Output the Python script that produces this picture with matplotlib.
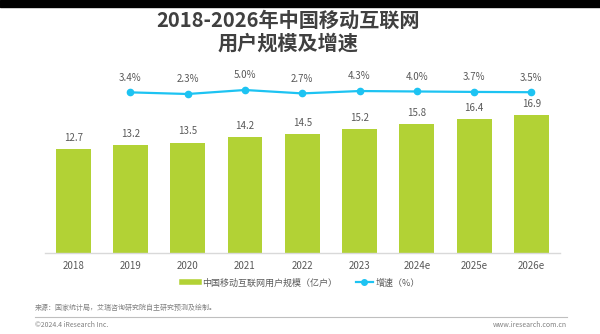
import matplotlib.pyplot as plt
from matplotlib.lines import Line2D

plt.rcParams['font.family'] = ['Noto Sans CJK SC', 'DejaVu Sans']

years = ["2018", "2019", "2020", "2021", "2022", "2023", "2024e", "2025e", "2026e"]
users = [12.7, 13.2, 13.5, 14.2, 14.5, 15.2, 15.8, 16.4, 16.9]
growth_years = years[1:]
growth = [3.4, 2.3, 5.0, 2.7, 4.3, 4.0, 3.7, 3.5]

green = "#B2D235"
cyan = "#1DC3F2"
gray = "#595959"

fig = plt.figure(figsize=(6, 3.34), dpi=100)

# black strip at the top
fig.patches.append(plt.Rectangle((0, 1 - 7 / 334), 1, 7 / 334, transform=fig.transFigure,
                                 color="black", zorder=0))

fig.text(0.480, 1 - 20 / 334, "2018-2026年中国移动互联网", ha="center", va="center",
         fontsize=14.5, fontweight="bold", color="#404040")
fig.text(0.480, 1 - 43 / 334, "用户规模及增速", ha="center", va="center",
         fontsize=14.5, fontweight="bold", color="#404040")

ax = fig.add_axes([44.5 / 600, 81 / 334, 515.5 / 600, 178 / 334])
x = list(range(len(years)))
bars = ax.bar(x, users, width=0.61, color=green, zorder=2)
for xi, v in zip(x, users):
    ax.text(xi, v + 0.75, f"{v:.1f}", ha="center", va="bottom", fontsize=7, color=gray)

ax.set_xlim(-0.5, len(years) - 0.5)
ax.set_ylim(0, 178 / 8.18)
ax.set_xticks(x)
ax.set_xticklabels(years, fontsize=7, color=gray)
ax.tick_params(axis="x", length=0, pad=6)
ax.set_yticks([])
for s in ["top", "right", "left"]:
    ax.spines[s].set_visible(False)
ax.spines["bottom"].set_color("#D9D9D9")
ax.spines["bottom"].set_linewidth(1)

ax2 = ax.twinx()
lo = -155.6 / 1.48
ax2.set_ylim(lo, lo + 178 / 1.48)
gx = x[1:]
ax2.plot(gx, growth, color=cyan, linewidth=1.6, marker="o", markersize=4.5, zorder=3)
for xi, v in zip(gx, growth):
    ax2.text(xi, v + 6.5, f"{v:.1f}%", ha="center", va="bottom", fontsize=7, color=gray)
ax2.set_yticks([])
for s in ["top", "right", "left", "bottom"]:
    ax2.spines[s].set_visible(False)

handles = [Line2D([], [], color=green, linewidth=4),
           Line2D([], [], color=cyan, linewidth=1.6, marker="o", markersize=4)]
labels = ["中国移动互联网用户规模（亿户）", "增速（%）"]
leg = fig.legend(handles, labels, loc="center", bbox_to_anchor=(0.502, 1 - 283 / 334), ncol=2,
                 frameon=False, fontsize=6.5, handlelength=1.9, handletextpad=0.35,
                 columnspacing=2.0)
for t in leg.get_texts():
    t.set_color(gray)

fig.text(35 / 600, 1 - 308 / 334, "来源：国家统计局，艾瑞咨询研究院自主研究预测及绘制。",
         fontsize=5, color="#808080", va="center")
fig.add_artist(Line2D([35 / 600, 567 / 600], [1 - 317 / 334, 1 - 317 / 334],
                      color="#BFBFBF", linewidth=0.8, transform=fig.transFigure))
fig.text(35 / 600, 1 - 325 / 334, "©2024.4 iResearch Inc.", fontsize=5, color="#808080",
         va="center")
fig.text(567 / 600, 1 - 325 / 334, "www.iresearch.com.cn", fontsize=5, color="#808080",
         va="center", ha="right")

fig.savefig("out.png", dpi=100)
